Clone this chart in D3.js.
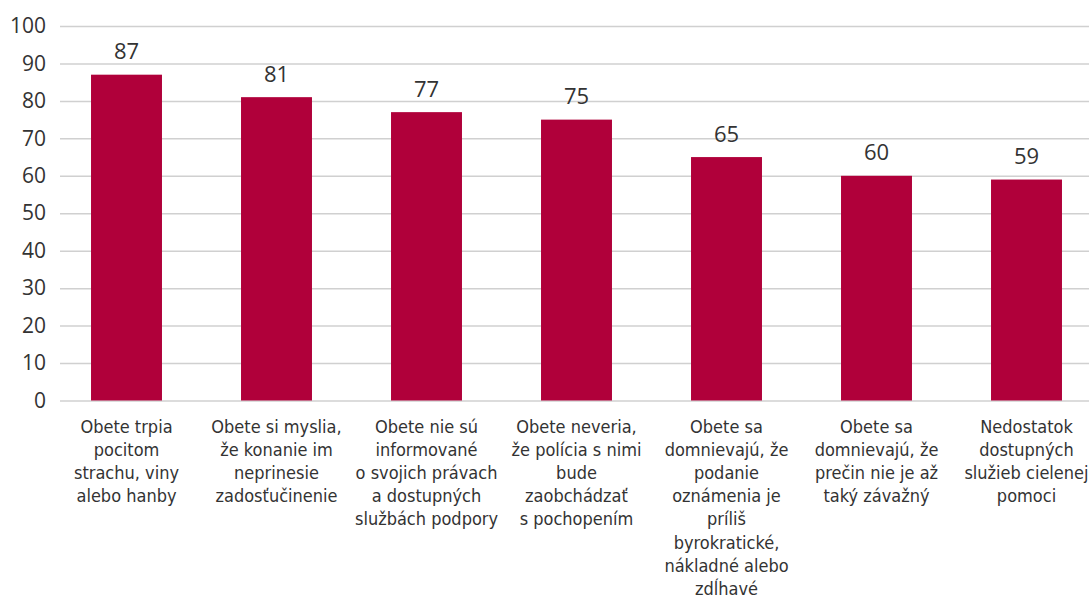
<!DOCTYPE html>
<html>
<head>
<meta charset="utf-8">
<script src="https://cdn.jsdelivr.net/npm/d3@7"></script>
<style>
  body { margin: 0; background: #fff; }
</style>
</head>
<body>
<div id="chart"></div>
<script>
// data
var categories = [
  ["Obete trpia", "pocitom", "strachu, viny", "alebo hanby"],
  ["Obete si myslia,", "že konanie im", "neprinesie", "zadosťučinenie"],
  ["Obete nie sú", "informované", "o svojich právach", "a dostupných", "službách podpory"],
  ["Obete neveria,", "že polícia s nimi", "bude", "zaobchádzať", "s pochopením"],
  ["Obete sa", "domnievajú, že", "podanie", "oznámenia je", "príliš", "byrokratické,", "nákladné alebo", "zdĺhavé"],
  ["Obete sa", "domnievajú, že", "prečin nie je až", "taký závažný"],
  ["Nedostatok", "dostupných", "služieb cielenej", "pomoci"]
];
var values = [87, 81, 77, 75, 65, 60, 59];
var yTicks = [0, 10, 20, 30, 40, 50, 60, 70, 80, 90, 100];

var BAR_COLOR = "#b0003a";
var TEXT_COLOR = "#333333";
var GRID_COLOR = "#d0d0d0";

var width = 1089, height = 601;

var svg = d3.select("#chart")
  .append("svg")
  .attr("width", width)
  .attr("height", height);

// scales
var x = d3.scaleBand()
  .domain(d3.range(values.length))
  .range([51.5, 1101.5])
  .paddingInner(0.527)
  .paddingOuter(0.2635);

var y = d3.scaleLinear()
  .domain([0, 100])
  .range([400.5, 26]);

// gridlines + y labels
var yAxis = svg.append("g")
  .attr("transform", "translate(60,0)")
  .call(d3.axisLeft(y)
    .tickValues(yTicks)
    .tickSize(-(width - 60))
    .tickPadding(14));

yAxis.select(".domain").remove();
yAxis.selectAll(".tick line")
  .attr("stroke", GRID_COLOR)
  .attr("stroke-width", 1.5);
yAxis.selectAll(".tick text")
  .attr("fill", TEXT_COLOR)
  .style("font-family", "'Open Sans', 'Noto Sans', sans-serif")
  .style("font-size", "21px");

// bars
svg.selectAll("rect.bar")
  .data(values)
  .enter()
  .append("rect")
  .attr("class", "bar")
  .attr("x", (d, i) => x(i))
  .attr("y", d => y(d))
  .attr("width", x.bandwidth())
  .attr("height", d => y(0) - y(d))
  .attr("fill", BAR_COLOR);

// value labels
svg.selectAll("text.val")
  .data(values)
  .enter()
  .append("text")
  .attr("class", "val")
  .attr("x", (d, i) => x(i) + x.bandwidth() / 2)
  .attr("y", d => y(d) - 15.5)
  .attr("text-anchor", "middle")
  .attr("fill", TEXT_COLOR)
  .style("font-family", "'Open Sans', 'Noto Sans', sans-serif")
  .style("font-size", "22px")
  .text(d => d);

// category labels
var cat = svg.selectAll("text.cat")
  .data(categories)
  .enter()
  .append("text")
  .attr("class", "cat")
  .attr("x", (d, i) => x(i) + x.bandwidth() / 2)
  .attr("y", 433)
  .attr("text-anchor", "middle")
  .attr("fill", TEXT_COLOR)
  .style("font-family", "'DejaVu Sans Condensed', 'Liberation Sans Narrow', sans-serif")
  .style("font-size", "18px");

cat.selectAll("tspan")
  .data(d => d)
  .enter()
  .append("tspan")
  .attr("x", function() { return d3.select(this.parentNode).attr("x"); })
  .attr("dy", (d, i) => i === 0 ? 0 : 23.1)
  .text(d => d);
</script>
</body>
</html>
